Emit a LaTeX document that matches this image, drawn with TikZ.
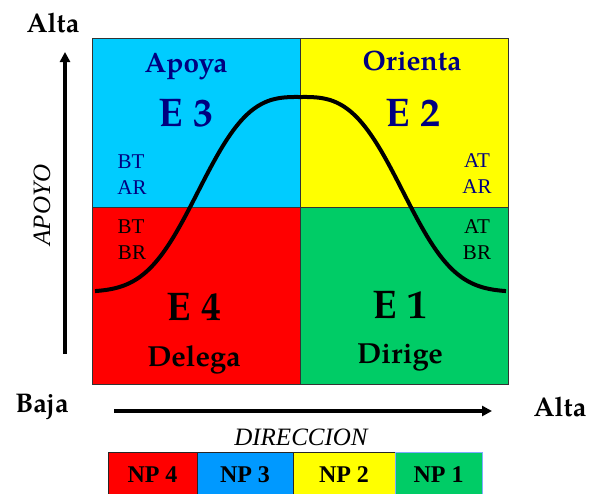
\documentclass[tikz,border=0pt]{standalone}
\usepackage{fontspec}
\setmainfont{Liberation Serif}
\newfontfamily\pala{TeX Gyre Pagella}
\usepackage{tikz}
\usetikzlibrary{arrows.meta,positioning}
\definecolor{cyanq}{HTML}{00CCFF}
\definecolor{yellowq}{HTML}{FFFF00}
\definecolor{redq}{HTML}{FF0000}
\definecolor{greenq}{HTML}{00CC66}
\definecolor{blueq}{HTML}{0099FF}
\definecolor{navy}{HTML}{000080}
\definecolor{edgeq}{HTML}{7FAAFF}
\begin{document}
\begin{tikzpicture}[x=1pt,y=-1pt,>={Triangle[length=10pt,width=10pt]}]
\tikzset{quad/.style={draw=black!80,line width=0.8pt,minimum width=208pt,inner sep=0pt,outer sep=0pt},
  head/.style={font=\pala\bfseries\fontsize{28}{30}\selectfont,anchor=base},
  est/.style={font=\pala\bfseries\fontsize{40}{42}\selectfont,anchor=base},
  pair/.style={font=\fontsize{21}{26}\selectfont,anchor=base},
  ends/.style={font=\pala\bfseries\fontsize{27}{30}\selectfont,anchor=base},
  axname/.style={font=\itshape\fontsize{25}{27}\selectfont,anchor=base},
  np/.style={draw=black!85,line width=0.8pt,minimum height=46pt,inner sep=0pt,outer sep=0pt,font=\bfseries\fontsize{24}{26}\selectfont},
  axis/.style={line width=3.3pt,->},
  curve/.style={line width=4pt,line join=round}}
\useasboundingbox (0,0) rectangle (589,493);
\node[quad,fill=cyanq,minimum height=169pt,anchor=north west] (q3) at (92,38) {};
\node[quad,fill=yellowq,minimum height=169pt,right=0pt of q3] (q2) {};
\node[quad,fill=redq,minimum height=177pt,below=0pt of q3] (q4) {};
\node[quad,fill=greenq,minimum height=177pt,right=0pt of q4] (q1) {};
\node[head,text=navy] (apoya) at (186,72) {Apoya};
\node[head,text=navy] (orienta) at (412,70) {Orienta};
\node[est,text=navy] (e3) at (186,126) {E 3};
\node[est,text=navy] (e2) at (413,126) {E 2};
\node[est] (e4) at (194,320) {E 4};
\node[est] (e1) at (400,318) {E 1};
\node[head,font=\pala\bfseries\fontsize{29}{31}\selectfont] (delega) at (194,366) {Delega};
\node[head,font=\pala\bfseries\fontsize{29}{31}\selectfont] (dirige) at (400,363) {Dirige};
\node[pair,text=navy] (bt3) at (131,168) {BT};
\node[pair,text=navy] (ar3) at (132,194) {AR};
\node[pair,text=navy] (at2) at (477,167) {AT};
\node[pair,text=navy] (ar2) at (477,193) {AR};
\node[pair] (bt4) at (131,233) {BT};
\node[pair] (br4) at (132,259) {BR};
\node[pair] (at1) at (477,233) {AT};
\node[pair] (br1) at (477,259) {BR};
\draw[curve] plot[domain=95:506,samples=120,smooth] (\x,{292-195*exp(-5.36*(abs(\x-300.5)/205.5)^3)});
\node[ends] (altay) at (53,32) {Alta};
\node[ends] (baja) at (42,412) {Baja};
\node[ends] (altax) at (560,416) {Alta};
\coordinate (ylo) at (65,354);
\coordinate (yhi) at (65,52);
\coordinate (xlo) at (114,411);
\coordinate (xhi) at (492,411);
\draw[axis] (ylo) -- (yhi);
\draw[axis] (xlo) -- (xhi);
\node[axname,rotate=90] (apoyo) at (50,205) {APOYO};
\node[axname] (direccion) at (301,445) {DIRECCION};
\node[np,fill=redq,minimum width=89pt,anchor=north west] (np4) at (108,452) {NP 4};
\node[np,fill=blueq,minimum width=96pt,right=0pt of np4] (np3) {NP 3};
\node[np,fill=yellowq,minimum width=102pt,right=0pt of np3] (np2) {NP 2};
\node[np,fill=greenq,draw=edgeq,minimum width=87pt,right=0pt of np2] (np1) {NP 1};
\end{tikzpicture}
\end{document}
